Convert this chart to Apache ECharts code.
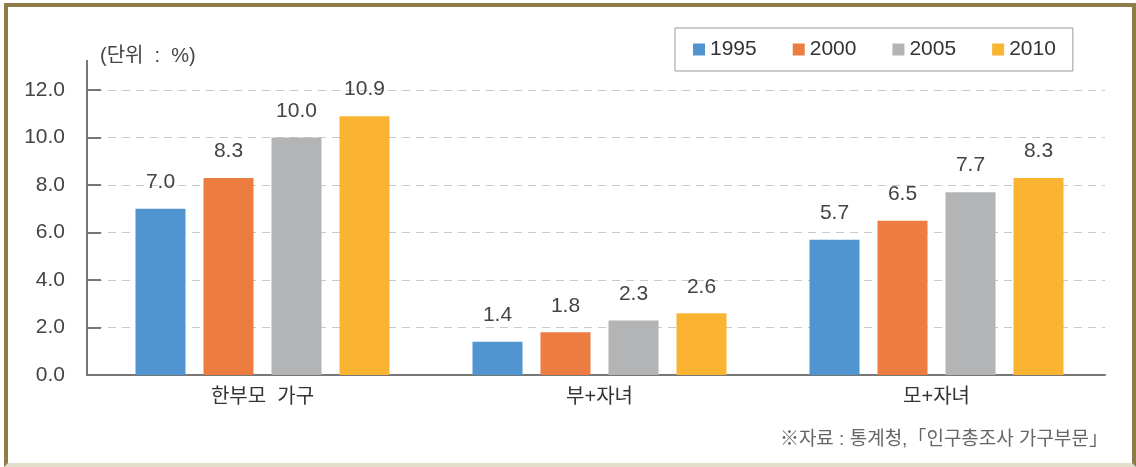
<!DOCTYPE html>
<html>
<head>
<meta charset="utf-8">
<script src="https://cdn.jsdelivr.net/npm/echarts@6/dist/echarts.min.js"></script>
<style>
  html, body { margin: 0; padding: 0; background: #fff; }
  #frame {
    position: absolute; left: 4px; top: 3px; width: 1132px; height: 464px;
    box-sizing: border-box;
    border-left: 4px solid #8e7d49; border-top: 4px solid #8e7d49;
    border-right: 4px solid #8e7d49; border-bottom: 4px solid #e2ddc8;
  }
  #chart { position: absolute; left: 0; top: 0; width: 1136px; height: 467px; }
</style>
</head>
<body>
<div id="frame"></div>
<div id="chart"></div>
<script>
// 데이터
var categories = ['한부모  가구', '부+자녀', '모+자녀'];
var years = ['1995', '2000', '2005', '2010'];
var v1995 = [7.0, 1.4, 5.7];
var v2000 = [8.3, 1.8, 6.5];
var v2005 = [10.0, 2.3, 7.7];
var v2010 = [10.9, 2.6, 8.3];
var colors = ['#5195d0', '#ec7c40', '#b3b4b6', '#fab432'];

var font = '"Liberation Sans", Arial, "Noto Sans CJK KR", sans-serif';
var chart = echarts.init(document.getElementById('chart'));

function bar(name, data) {
    return {
        name: name,
        type: 'bar',
        data: data,
        barWidth: 50,
        barGap: '36%',
        label: {
            show: true,
            position: 'top',
            distance: 16,
            color: '#444',
            fontSize: 21,
            fontFamily: font,
            formatter: function (p) { return p.value.toFixed(1); }
        }
    };
}

chart.setOption({
    backgroundColor: 'transparent',
    color: colors,
    animation: false,
    textStyle: { fontFamily: font },
    legend: {
        data: years,
        left: 675,
        top: 28,
        padding: [11, 17, 11, 18],
        borderColor: '#9a9a9a',
        borderWidth: 1,
        itemWidth: 12,
        itemHeight: 12,
        itemGap: 36,
        icon: 'rect',
        textStyle: { fontSize: 21, color: '#333', fontFamily: font }
    },
    grid: { //그래프 영역
        left: 94,
        right: 31,
        top: 90,
        bottom: 92
    },
    xAxis: {
        type: 'category',
        data: categories,
        axisTick: { show: false },
        axisLine: { lineStyle: { color: '#777', width: 2 } },
        axisLabel: { color: '#333', fontSize: 20, margin: 12, fontFamily: font }
    },
    yAxis: {
        type: 'value',
        min: 0,
        max: 12,
        interval: 2,
        offset: 7,
        axisLine: { show: true, lineStyle: { color: '#777', width: 2 } },
        axisTick: { show: true, inside: true, length: 14, lineStyle: { color: '#777', width: 2 } },
        splitLine: { lineStyle: { color: '#c8c8c8', type: [8, 6], width: 1 } },
        axisLabel: {
            color: '#444',
            fontSize: 21,
            margin: 22,
            fontFamily: font,
            formatter: function (v) { return v.toFixed(1); }
        }
    },
    graphic: [
        { type: 'line', shape: { x1: 87, y1: 60, x2: 87, y2: 91 }, style: { stroke: '#777', lineWidth: 2 } },
        { type: 'line', shape: { x1: 86, y1: 375, x2: 95, y2: 375 }, style: { stroke: '#777', lineWidth: 2 } },
        { type: 'text', left: 100, top: 46, style: { text: '(단위  :  %)', fontSize: 20, fill: '#444', fontFamily: font } },
        { type: 'text', right: 28, top: 430, style: { text: '※자료 : 통계청,「인구총조사 가구부문」', fontSize: 19, fill: '#666', fontFamily: font } }
    ],
    series: [
        bar('1995', v1995),
        bar('2000', v2000),
        bar('2005', v2005),
        bar('2010', v2010)
    ]
});
</script>
</body>
</html>
